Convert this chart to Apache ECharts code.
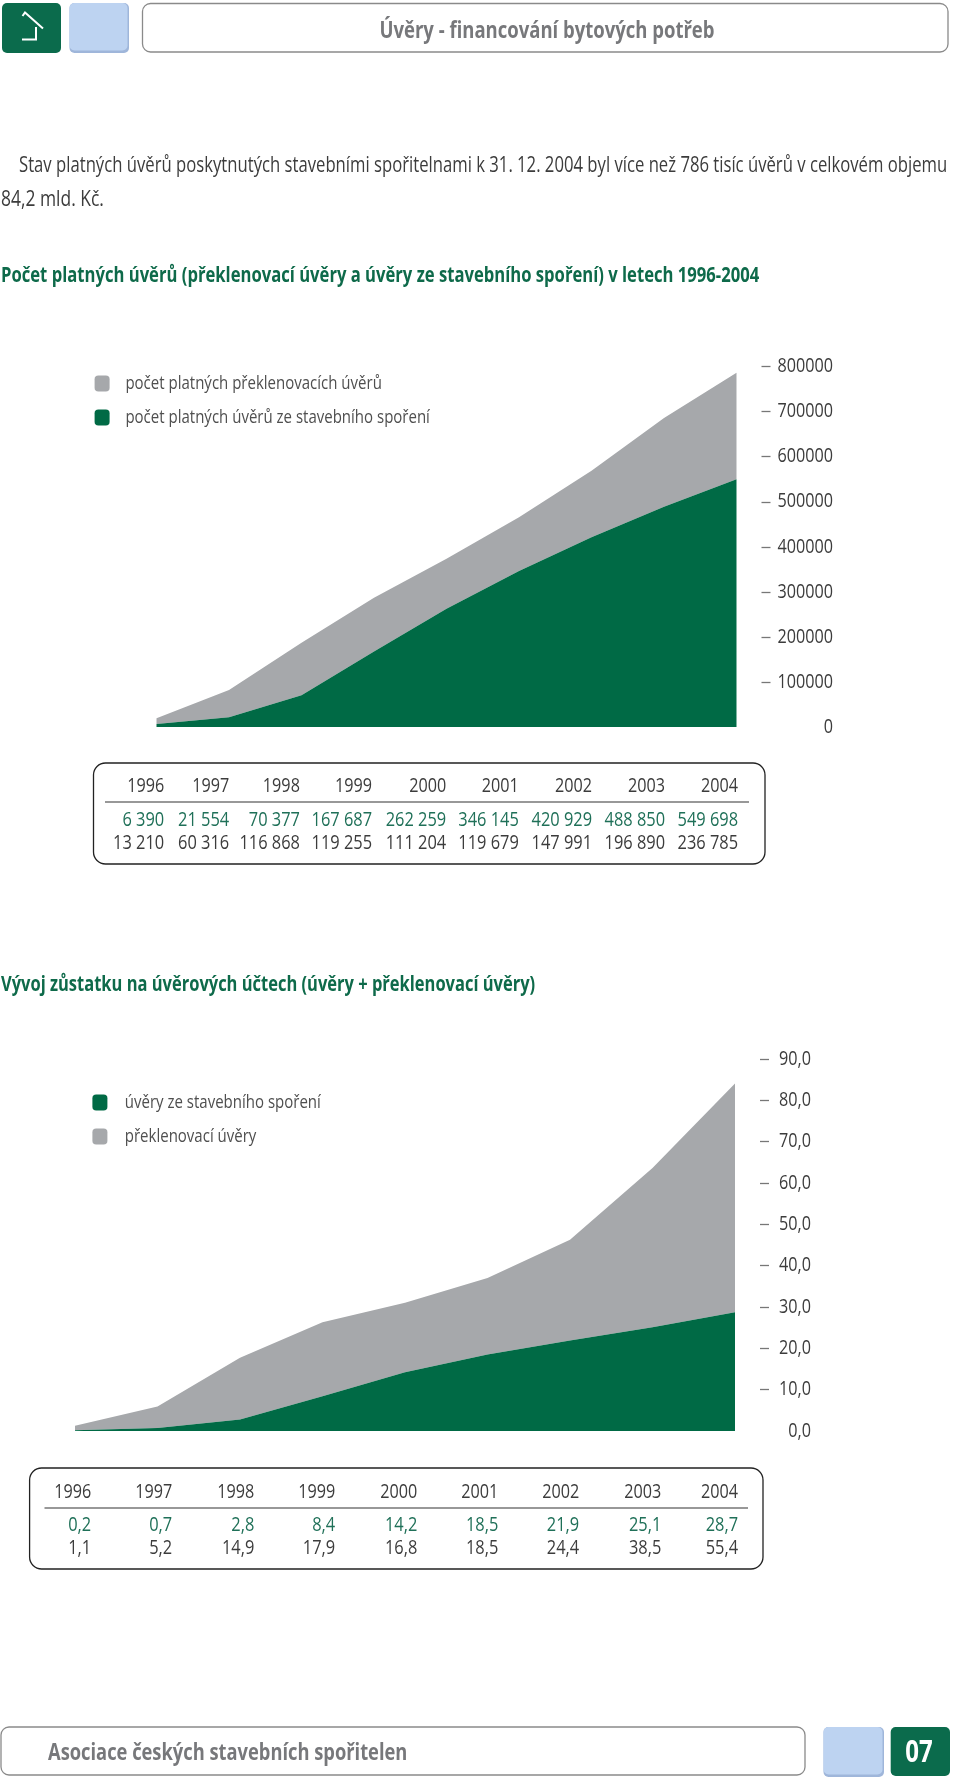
<!DOCTYPE html>
<html><head><meta charset="utf-8">
<style>html,body{margin:0;padding:0;background:#fff}#c{width:960px;height:1787px}</style>
<script src="https://cdn.jsdelivr.net/npm/echarts@6/dist/echarts.min.js"></script>
</head><body><div id="c"></div>
<script>
const years=['1996','1997','1998','1999','2000','2001','2002','2003','2004'];
const bridgeCountName='počet platných překlenovacích úvěrů';
const savingsCountName='počet platných úvěrů ze stavebního spoření';
const savingsCounts=[6390,21554,70377,167687,262259,346145,420929,488850,549698];
const bridgeCounts=[13210,60316,116868,119255,111204,119679,147991,196890,236785];
const savingsCountLabels=['6 390','21 554','70 377','167 687','262 259','346 145','420 929','488 850','549 698'];
const bridgeCountLabels=['13 210','60 316','116 868','119 255','111 204','119 679','147 991','196 890','236 785'];
const savingsBalName='úvěry ze stavebního spoření';
const bridgeBalName='překlenovací úvěry';
const savingsBal=[0.2,0.7,2.8,8.4,14.2,18.5,21.9,25.1,28.7];
const bridgeBal=[1.1,5.2,14.9,17.9,16.8,18.5,24.4,38.5,55.4];
const headerTitle='Úvěry - financování bytových potřeb';
const bodyLine1='Stav platných úvěrů poskytnutých stavebními spořitelnami k 31. 12. 2004 byl více než 786 tisíc úvěrů v celkovém objemu';
const bodyLine2='84,2 mld. Kč.';
const heading1='Počet platných úvěrů (překlenovací úvěry a úvěry ze stavebního spoření) v letech 1996-2004';
const heading2='Vývoj zůstatku na úvěrových účtech (úvěry + překlenovací úvěry)';
const footerText='Asociace českých stavebních spořitelen';
const pageNo='07';
const tickVals1=[100000,200000,300000,400000,500000,600000,700000,800000];
const tickVals2=[10,20,30,40,50,60,70,80,90];

const GREEN='#006a45',GRAY='#a6a8ab',BLUE='#bdd3f1',EDGE='#9fb6da',TXT='#3c3c3c',TGREEN='#1f7058',HGREEN='#0e6a4a',HGRAY='#77787b',BOXG='#0b6b4c';
const FF='"Open Sans",sans-serif';
const comma=v=>v.toFixed(1).replace('.',',');
const g=[];
function txt(x,y,s,o={}){g.push({type:'text',x,y,scaleX:o.sx||1,z:10,style:{text:s,fill:o.c||TXT,
 font:(o.w||'normal')+' '+(o.fs||20)+'px '+FF,textAlign:o.a||'left',textVerticalAlign:'middle'}});}
function box(x,y,w,h,r,fill,stroke){g.push({type:'rect',shape:{x,y,width:w,height:h,r},z:1,style:{fill:fill||'transparent',stroke:stroke||null,lineWidth:stroke?1.3:0}});}
function line(x1,y1,x2,y2,c,w){g.push({type:'line',shape:{x1,y1,x2,y2},z:2,style:{stroke:c,lineWidth:w}});}
function poly(points){g.push({type:'polyline',z:3,shape:{points},style:{stroke:'#fff',lineWidth:2,fill:'none'}});}

// header
box(2,3,59,50,5,BOXG);
poly([[22.5,16],[25,12.5],[43,28.5]]);
poly([[36,27],[36,39.5],[22,39.5]]);
box(69.5,3,59.5,50,5,EDGE);box(69.5,3,58,47.5,5,BLUE);
box(142.5,3.5,805.5,48.5,8,'#fff','#8a8a8a');
txt(547,31,headerTitle,{a:'center',fs:24,w:'bold',c:HGRAY,sx:.771});
txt(19,166,bodyLine1,{fs:21,sx:.794});
txt(1,200,bodyLine2,{fs:21,sx:.83});
txt(1,276,heading1,{fs:21,w:'bold',c:HGREEN,sx:.792});
txt(1,985,heading2,{fs:21,w:'bold',c:HGREEN,sx:.785});

// tables
function table(b,lx,rx,ly,ry,rows,cols){
 box(b[0],b[1],b[2],b[3],12,'transparent','#222');
 line(lx,ly,rx,ly,'#333',1.2);
 years.forEach((yr,i)=>{
  txt(cols[i],ry[0],yr,{a:'right',fs:20,sx:.81});
  txt(cols[i],ry[1],rows[0][i],{a:'right',fs:20,c:TGREEN,sx:.82});
  txt(cols[i],ry[2],rows[1][i],{a:'right',fs:20,sx:.82});
 });
}
table([93.5,763,671.5,101],105,749,802,[786,820,843.5],[savingsCountLabels,bridgeCountLabels],[164.2,229.2,299.9,372.1,446.2,518.8,592.1,665.1,738.1]);
table([29.6,1468,733.4,101],44.5,748,1508,[1492.5,1525,1548.5],[savingsBal.map(comma),bridgeBal.map(comma)],[91.2,172.2,254.3,335.2,417.3,498.3,579.2,661.3,738.1]);

// footer
box(1,1727,804,48,8,'#fff','#8a8a8a');
txt(48,1753,footerText,{fs:24,w:'bold',c:HGRAY,sx:.763});
box(823.5,1727,60.5,50,5,EDGE);box(823.5,1727,59,47.5,5,BLUE);
box(890.7,1727,59.3,49,5,BOXG);
txt(919,1753,pageNo,{a:'center',fs:30,w:'bold',c:'#fff',sx:.8});

function yAxis(idx,max,interval,ticks,margin,fmt){return {type:'value',gridIndex:idx,position:'right',offset:25,min:0,max,interval,
 splitLine:{show:false},axisLine:{show:false},
 axisTick:{show:true,length:9,customValues:ticks,lineStyle:{color:'#777',width:1.3}},
 axisLabel:{margin,align:'right',color:TXT,fontFamily:FF,fontSize:20,formatter:fmt,showMinLabel:true,showMaxLabel:true}};}
function xAxis(idx){return {type:'category',gridIndex:idx,data:years,boundaryGap:false,show:false};}
function area(name,data,color,idx,stack,z){return {name,type:'line',xAxisIndex:idx,yAxisIndex:idx,stack,data,symbol:'none',z,
 lineStyle:{width:0,color},itemStyle:{color},areaStyle:{color,opacity:1},silent:true,animation:false};}
function legend(names,left,top,pad){return {data:names,orient:'vertical',left,top,itemWidth:15,itemHeight:16,itemGap:15,icon:'roundRect',selectedMode:false,
 textStyle:{color:'#4f4f4f',fontFamily:FF,fontSize:19,padding:[0,0,0,pad]}};}

const chart=echarts.init(document.getElementById('c'),null,{renderer:'canvas'});
chart.setOption({
 animation:false,backgroundColor:'#fff',
 grid:[{left:156.5,width:580,top:366.6,height:360.4},{left:75,width:660,top:1059,height:372}],
 xAxis:[xAxis(0),xAxis(1)],
 yAxis:[yAxis(0,800000,100000,tickVals1,71.6,v=>String(v)),yAxis(1,90,10,tickVals2,51,comma)],
 legend:[legend([bridgeCountName,savingsCountName],89.6,369,19),legend([savingsBalName,bridgeBalName],87.4,1088,21)],
 series:[
  area(savingsCountName,savingsCounts,GREEN,0,'n',3),
  area(bridgeCountName,bridgeCounts,GRAY,0,'n',2),
  area(savingsBalName,savingsBal,GREEN,1,'b',3),
  area(bridgeBalName,bridgeBal,GRAY,1,'b',2)
 ],
 graphic:{elements:g}
});
// the installed fonts have no condensed cut: narrow the axis and legend labels to the reference's width
const narrow=new Map();
tickVals1.concat([0]).forEach(v=>narrow.set(String(v),.81));
tickVals2.concat([0]).forEach(v=>narrow.set(comma(v),.81));
[bridgeCountName,savingsCountName,savingsBalName,bridgeBalName].forEach(n=>narrow.set(n,.79));
const zr=chart.getZr();
(function walk(list){list.forEach(el=>{
 if(el.isGroup){walk(el.children());return;}
 const t=el.style&&el.style.text;
 if(t!=null&&narrow.has(String(t))){el.scaleX=narrow.get(String(t));el.markRedraw();}
});})(zr.storage.getRoots());
zr.refreshImmediately();
</script></body></html>
